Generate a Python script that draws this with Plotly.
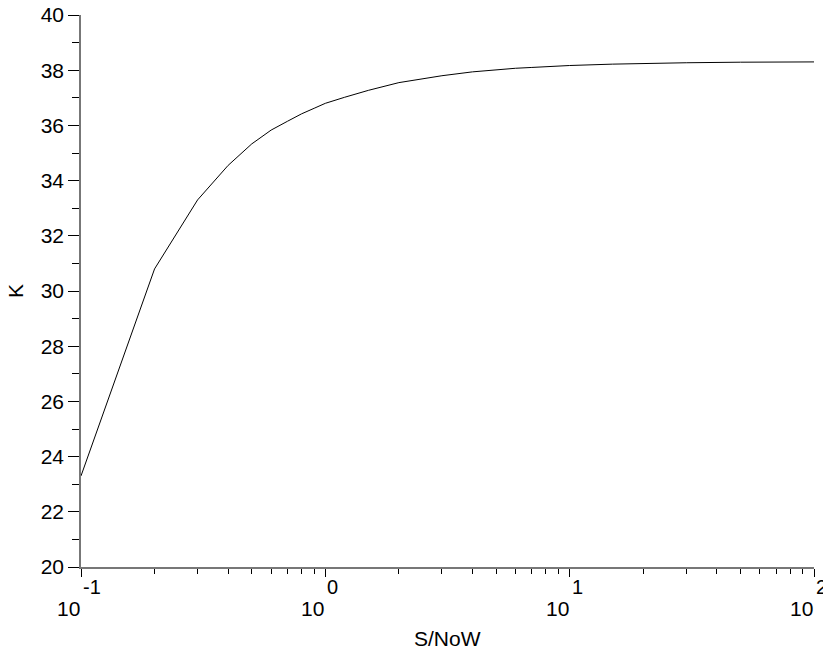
import plotly.graph_objects as go

# Data
snr = [0.1, 0.2, 0.3, 0.4, 0.5, 0.6, 0.7, 0.8, 0.9, 1.0,
       1.2, 1.5, 2.0, 2.5, 3.0, 4.0, 5.0, 6.0, 7.0, 8.0, 10.0,
       15.0, 20.0, 30.0, 50.0, 100.0]
k_vals = [23.3, 30.8, 33.3, 34.55, 35.33, 35.83, 36.15, 36.42, 36.62, 36.8,
          37.02, 37.27, 37.55, 37.7, 37.8, 37.94, 38.02, 38.07, 38.1, 38.13, 38.17,
          38.22, 38.25, 38.27, 38.29, 38.30]

x_tick_exponents = [-1, 0, 1, 2]
y_ticks = [20, 22, 24, 26, 28, 30, 32, 34, 36, 38, 40]

FONT = "Liberation Sans, Arial, sans-serif"
FS = 21

fig = go.Figure()
fig.add_trace(go.Scatter(x=snr, y=k_vals, mode="lines",
                         line=dict(color="black", width=1), showlegend=False,
                         hoverinfo="skip"))

annotations = []
for e in x_tick_exponents:
    annotations.append(dict(x=e, y=0, xref="x", yref="paper", text="10",
                            showarrow=False, xanchor="right", yanchor="middle",
                            yshift=-41, xshift=1, font=dict(size=FS, color="black", family=FONT)))
    annotations.append(dict(x=e, y=0, xref="x", yref="paper", text=str(e),
                            showarrow=False, xanchor="left", yanchor="middle",
                            yshift=-20, xshift=0, font=dict(size=FS - 1, color="black", family=FONT)))

annotations.append(dict(x=0.5, y=0, xref="paper", yref="paper", text="S/NoW",
                        showarrow=False, xanchor="center", yanchor="middle",
                        yshift=-71, font=dict(size=FS, color="black", family=FONT)))
annotations.append(dict(x=0, y=0.5, xref="paper", yref="paper", text="K",
                        showarrow=False, xanchor="center", yanchor="middle",
                        xshift=-66, textangle=-90,
                        font=dict(size=FS, color="black", family=FONT)))

fig.update_layout(
    width=823, height=649,
    margin=dict(l=81, r=9, t=15, b=82),
    paper_bgcolor="white", plot_bgcolor="white",
    font=dict(family=FONT, size=FS, color="black"),
    annotations=annotations,
    xaxis=dict(type="log", range=[-1, 2], showgrid=False, zeroline=False,
               automargin=False,
               showline=True, linecolor="#777777", linewidth=1.5,
               ticks="outside", ticklen=8, tickcolor="black", tickwidth=1,
               tickvals=[10 ** e for e in x_tick_exponents], showticklabels=False,
               minor=dict(ticks="outside", ticklen=5, tickcolor="black", tickwidth=1,
                          dtick="D1", showgrid=False)),
    yaxis=dict(range=[20, 40], showgrid=False, zeroline=False,
               automargin=False,
               showline=True, linecolor="#777777", linewidth=1.5,
               ticks="outside", ticklen=11, tickcolor="black", tickwidth=1,
               tickvals=y_ticks, ticktext=[str(v) for v in y_ticks],
               tickfont=dict(size=FS, color="black", family=FONT),
               minor=dict(ticks="outside", ticklen=7, tickcolor="black", tickwidth=1,
                          dtick=1, showgrid=False)),
)

fig.write_html("out.html", config={"displayModeBar": False},
               post_script="document.body.style.margin='0';document.body.style.padding='0';")
